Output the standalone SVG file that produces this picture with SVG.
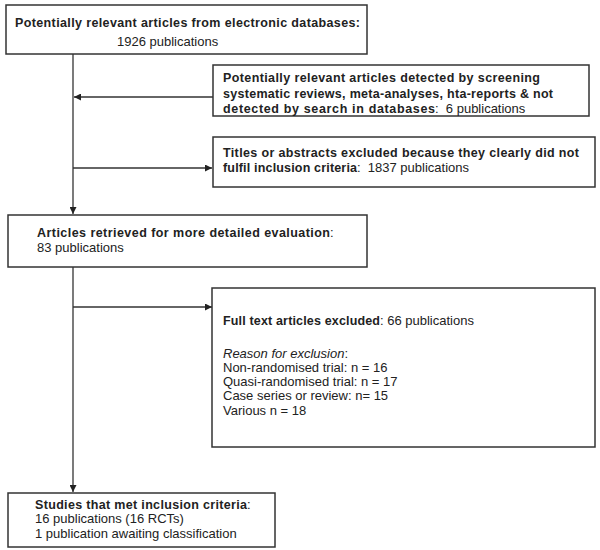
<svg xmlns="http://www.w3.org/2000/svg" width="600" height="550" viewBox="0 0 600 550">
<style>
.box{fill:#fff;stroke:#333;stroke-width:1.5}
.t{font-family:"Liberation Sans",Arial,sans-serif;font-size:13px;fill:#222}
.b{font-weight:bold;font-size:12.5px}
.i{font-style:italic}
.ln{stroke:#333;stroke-width:1.3;fill:none}
</style>
<defs>
<marker id="ah" viewBox="0 0 10 10" refX="10" refY="5" markerWidth="7" markerHeight="7" markerUnits="userSpaceOnUse" orient="auto">
<path d="M0,0 L10,5 L0,10 Z" fill="#222"/>
</marker>
</defs>
<rect width="600" height="550" fill="#fff"/>
<g id="connectors">
<line class="ln" x1="73" y1="54" x2="73" y2="214" marker-end="url(#ah)"/>
<line class="ln" x1="213" y1="97" x2="74" y2="97" marker-end="url(#ah)"/>
<line class="ln" x1="73" y1="168" x2="212" y2="168" marker-end="url(#ah)"/>
<line class="ln" x1="73" y1="267" x2="73" y2="492" marker-end="url(#ah)"/>
<line class="ln" x1="73" y1="307" x2="212" y2="307" marker-end="url(#ah)"/>
</g>
<g id="n1">
<rect class="box" x="6" y="5" width="361" height="49"/>
<text class="t b" x="15" y="27" textLength="345" lengthAdjust="spacing">Potentially relevant articles from electronic databases:</text>
<text class="t" x="117" y="46">1926 publications</text>
</g>
<g id="n2">
<rect class="box" x="213" y="65" width="376" height="51"/>
<text class="t b" x="223" y="82" textLength="317" lengthAdjust="spacing">Potentially relevant articles detected by screening</text>
<text class="t b" x="223" y="98" textLength="330" lengthAdjust="spacing">systematic reviews, meta-analyses, hta-reports &amp; not</text>
<text class="t b" x="223" y="113" textLength="212" lengthAdjust="spacing">detected by search in databases</text>
<text class="t" x="435" y="113" xml:space="preserve">:  6 publications</text>
</g>
<g id="n3">
<rect class="box" x="213" y="137" width="382" height="50"/>
<text class="t b" x="223" y="157" textLength="356" lengthAdjust="spacing">Titles or abstracts excluded because they clearly did not</text>
<text class="t b" x="223" y="172" textLength="134" lengthAdjust="spacing">fulfil inclusion criteria</text>
<text class="t" x="357" y="172" xml:space="preserve">:  1837 publications</text>
</g>
<g id="n4">
<rect class="box" x="8" y="215" width="359" height="52"/>
<text class="t b" x="37" y="237" textLength="293" lengthAdjust="spacing">Articles retrieved for more detailed evaluation</text>
<text class="t" x="330" y="237">:</text>
<text class="t" x="37" y="252">83 publications</text>
</g>
<g id="n5">
<rect class="box" x="212" y="288" width="383" height="159"/>
<text class="t b" x="223" y="325" textLength="157" lengthAdjust="spacing">Full text articles excluded</text>
<text class="t" x="380" y="325">: 66 publications</text>
<text class="t i" x="223" y="358">Reason for exclusion<tspan font-style="normal">:</tspan></text>
<text class="t" x="223" y="372">Non-randomised trial: n = 16</text>
<text class="t" x="223" y="386">Quasi-randomised trial: n = 17</text>
<text class="t" x="223" y="400">Case series or review: n= 15</text>
<text class="t" x="223" y="415">Various n = 18</text>
</g>
<g id="n6">
<rect class="box" x="8" y="493" width="267" height="54"/>
<text class="t b" x="35" y="509" textLength="212" lengthAdjust="spacing">Studies that met inclusion criteria</text>
<text class="t" x="247" y="509">:</text>
<text class="t" x="35" y="523">16 publications (16 RCTs)</text>
<text class="t" x="35" y="538">1 publication awaiting classification</text>
</g>
</svg>
